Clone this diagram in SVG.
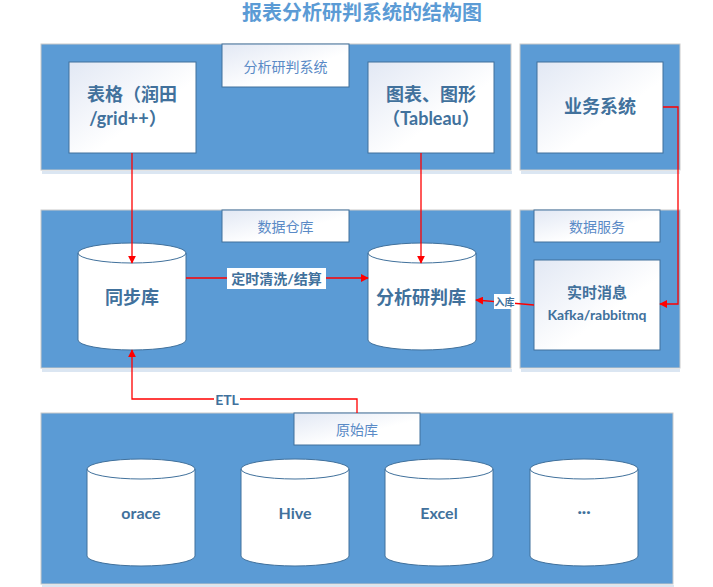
<svg xmlns="http://www.w3.org/2000/svg" width="713" height="587" viewBox="0 0 713 587">
  <style>
    text { font-family: Lato, "Noto Sans CJK SC", sans-serif; text-anchor: middle; dominant-baseline: central; }
    .panel { fill: #5b9bd5; stroke: #c9c9c9; stroke-width: 1; }
    .shadow { fill: #dbe6f2; }
    .box { fill: url(#boxGrad); stroke: #41719c; stroke-width: 1; }
    .cyl { fill: #ffffff; stroke: #41719c; stroke-width: 1; }
    .cap { fill: none; stroke: #41719c; stroke-width: 1; }
    .tag { font-size: 14px; fill: #5a8ac6; }
    .lbl { font-size: 18px; font-weight: bold; fill: #41719c; }
    .db { font-size: 16px; font-weight: bold; fill: #41719c; }
    .wire { fill: none; stroke: #ff0000; stroke-width: 1.3; }
    .wlbl { font-weight: bold; fill: #41719c; }
  </style>
  <defs>
    <linearGradient id="boxGrad" x1="0" y1="0" x2="1" y2="1">
      <stop offset="0" stop-color="#e2e8f4"/>
      <stop offset="0.6" stop-color="#ffffff"/>
      <stop offset="1" stop-color="#ffffff"/>
    </linearGradient>
    <marker id="arrow" viewBox="0 0 10 10" refX="9" refY="5" markerWidth="8" markerHeight="8" markerUnits="userSpaceOnUse" orient="auto">
      <path d="M0,0 L10,5 L0,10 Z" fill="#ff0000"/>
    </marker>
  </defs>

  <!-- title -->
  <text x="362" y="12" style="font-size:20px;font-weight:bold;fill:#5b9bd5">报表分析研判系统的结构图</text>

  <!-- analysis system panel -->
  <g id="panel-analysis">
    <rect class="shadow" x="42" y="171" width="470" height="3"/>
    <rect class="panel" x="41" y="44" width="470" height="126"/>
    <rect class="box" x="222" y="44" width="127" height="43"/>
    <text class="tag" x="285.5" y="66">分析研判系统</text>
  </g>
  <g id="node-table">
    <rect class="box" x="69" y="62" width="127" height="91"/>
    <text class="lbl" x="132" y="94">表格（润田</text>
    <text class="lbl" x="128" y="118">/grid++）</text>
  </g>
  <g id="node-chart">
    <rect class="box" x="368" y="62" width="126" height="91"/>
    <text class="lbl" x="431" y="94">图表、图形</text>
    <text class="lbl" x="431" y="118">（Tableau）</text>
  </g>

  <!-- business system panel -->
  <g id="panel-business">
    <rect class="shadow" x="521" y="171" width="159" height="3"/>
    <rect class="panel" x="520" y="44" width="160" height="126"/>
  </g>
  <g id="node-business">
    <rect class="box" x="537" y="62" width="126" height="91"/>
    <text class="lbl" x="600" y="106">业务系统</text>
  </g>

  <!-- data warehouse panel -->
  <g id="panel-warehouse">
    <rect class="shadow" x="42" y="369" width="470" height="3"/>
    <rect class="panel" x="41" y="210" width="470" height="158"/>
    <rect class="box" x="222" y="210" width="127" height="32"/>
    <text class="tag" x="285.5" y="226">数据仓库</text>
  </g>
  <g id="node-sync-db">
    <path class="cyl" d="M78,253 A54,10 0 0,1 186,253 L186,340 A54,10 0 0,1 78,340 Z"/>
    <path class="cap" d="M78,253 A54,10 0 0,0 186,253"/>
    <text class="lbl" x="132" y="297">同步库</text>
  </g>
  <g id="node-analysis-db">
    <path class="cyl" d="M368,253 A54,10 0 0,1 476,253 L476,340 A54,10 0 0,1 368,340 Z"/>
    <path class="cap" d="M368,253 A54,10 0 0,0 476,253"/>
    <text class="lbl" x="421" y="297">分析研判库</text>
  </g>

  <!-- data service panel -->
  <g id="panel-service">
    <rect class="shadow" x="521" y="369" width="159" height="3"/>
    <rect class="panel" x="520" y="210" width="160" height="158"/>
    <rect class="box" x="534" y="210" width="126" height="32"/>
    <text class="tag" x="597" y="226">数据服务</text>
  </g>
  <g id="node-mq">
    <rect class="box" x="534" y="260" width="126" height="90"/>
    <text x="597" y="292" style="font-size:15px;font-weight:bold;fill:#41719c">实时消息</text>
    <text x="597" y="314" style="font-size:14px;font-weight:bold;fill:#41719c">Kafka/rabbitmq</text>
  </g>

  <!-- raw source panel -->
  <g id="panel-raw">
    <rect class="shadow" x="42" y="585" width="632" height="2"/>
    <rect class="panel" x="41" y="413" width="632" height="171"/>
    <rect class="box" x="294" y="413" width="126" height="32"/>
    <text class="tag" x="357" y="429">原始库</text>
  </g>
  <g id="node-oracle">
    <path class="cyl" d="M87,469 A54,10 0 0,1 195,469 L195,556 A54,10 0 0,1 87,556 Z"/>
    <path class="cap" d="M87,469 A54,10 0 0,0 195,469"/>
    <text class="db" x="141" y="512">orace</text>
  </g>
  <g id="node-hive">
    <path class="cyl" d="M241,469 A54,10 0 0,1 349,469 L349,556 A54,10 0 0,1 241,556 Z"/>
    <path class="cap" d="M241,469 A54,10 0 0,0 349,469"/>
    <text class="db" x="295" y="512">Hive</text>
  </g>
  <g id="node-excel">
    <path class="cyl" d="M385,469 A54,10 0 0,1 493,469 L493,556 A54,10 0 0,1 385,556 Z"/>
    <path class="cap" d="M385,469 A54,10 0 0,0 493,469"/>
    <text class="db" x="439" y="512">Excel</text>
  </g>
  <g id="node-more">
    <path class="cyl" d="M530,469 A54,10 0 0,1 638,469 L638,556 A54,10 0 0,1 530,556 Z"/>
    <path class="cap" d="M530,469 A54,10 0 0,0 638,469"/>
    <text class="db" x="584" y="510">···</text>
  </g>

  <!-- connectors -->
  <g id="connectors">
    <path class="wire" d="M132,153 L132,263" marker-end="url(#arrow)"/>
    <path class="wire" d="M421,153 L421,263" marker-end="url(#arrow)"/>
    <path class="wire" d="M186,278 L368,278" marker-end="url(#arrow)"/>
    <rect x="227" y="268" width="99" height="21" fill="#ffffff"/>
    <text class="wlbl" x="276.5" y="278.5" style="font-size:14px">定时清洗/结算</text>
    <path class="wire" d="M663,107 L678,107 L678,304 L660,304" marker-end="url(#arrow)"/>
    <path class="wire" d="M534,305 L476,300" marker-end="url(#arrow)"/>
    <rect x="494" y="294" width="21" height="15" fill="#ffffff"/>
    <text class="wlbl" x="504.5" y="302" style="font-size:10px">入库</text>
    <path class="wire" d="M357,413 L357,399 L132,399 L132,350" marker-end="url(#arrow)"/>
    <rect x="214" y="391" width="26" height="16" fill="#ffffff"/>
    <text class="wlbl" x="227" y="399" style="font-size:14px">ETL</text>
  </g>
</svg>
